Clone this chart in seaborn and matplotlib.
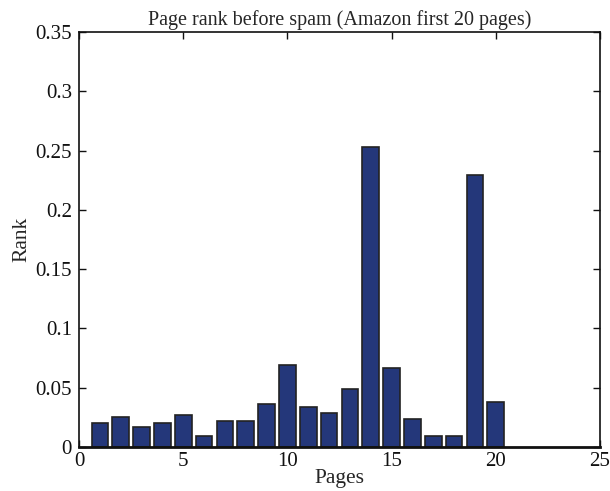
import matplotlib
matplotlib.use("Agg")
import matplotlib.pyplot as plt
import seaborn as sns
import pandas as pd

pages = list(range(1, 21))
rank = [0.020, 0.025, 0.017, 0.020, 0.027, 0.009, 0.022, 0.022, 0.036, 0.069,
        0.034, 0.029, 0.049, 0.253, 0.067, 0.024, 0.009, 0.009, 0.229, 0.038]

df = pd.DataFrame({"Pages": pages, "Rank": rank})

sns.set_style("ticks")
plt.rcParams["font.family"] = ["Liberation Serif", "DejaVu Serif"]
plt.rcParams["font.size"] = 15

fig = plt.figure(figsize=(6.1, 4.91), dpi=100)
ax = fig.add_axes([79 / 610, 1 - 447 / 491, (600 - 79) / 610, (447 - 32) / 491])

sns.barplot(data=df, x="Pages", y="Rank", native_scale=True, width=0.8,
            color="#24377a", saturation=1, edgecolor="#222222", linewidth=1.2,
            ax=ax)

ax.set_xlim(0, 25)
ax.set_ylim(0, 0.35)
ax.set_xticks([0, 5, 10, 15, 20, 25])
ax.set_xticklabels(["0", "5", "10", "15", "20", "25"])
ax.set_yticks([0, 0.05, 0.1, 0.15, 0.2, 0.25, 0.3, 0.35])
ax.set_yticklabels(["0", "0.05", "0.1", "0.15", "0.2", "0.25", "0.3", "0.35"])
ax.tick_params(direction="in", length=5, width=1, labelsize=15,
               top=True, right=True, colors="#111111")
ax.tick_params(axis="x", pad=3.5)
ax.tick_params(axis="y", pad=5)
for side in ["top", "right", "left", "bottom"]:
    ax.spines[side].set_visible(True)
    ax.spines[side].set_linewidth(1.2)
    ax.spines[side].set_color("#111111")
ax.spines["bottom"].set_linewidth(2)

ax.set_xlabel("Pages", fontsize=15.5, labelpad=-1)
ax.set_ylabel("Rank", fontsize=15.5, labelpad=3)
ax.set_title("Page rank before spam (Amazon first 20 pages)", fontsize=14.5, pad=5)

fig.savefig("out.png", dpi=100)
